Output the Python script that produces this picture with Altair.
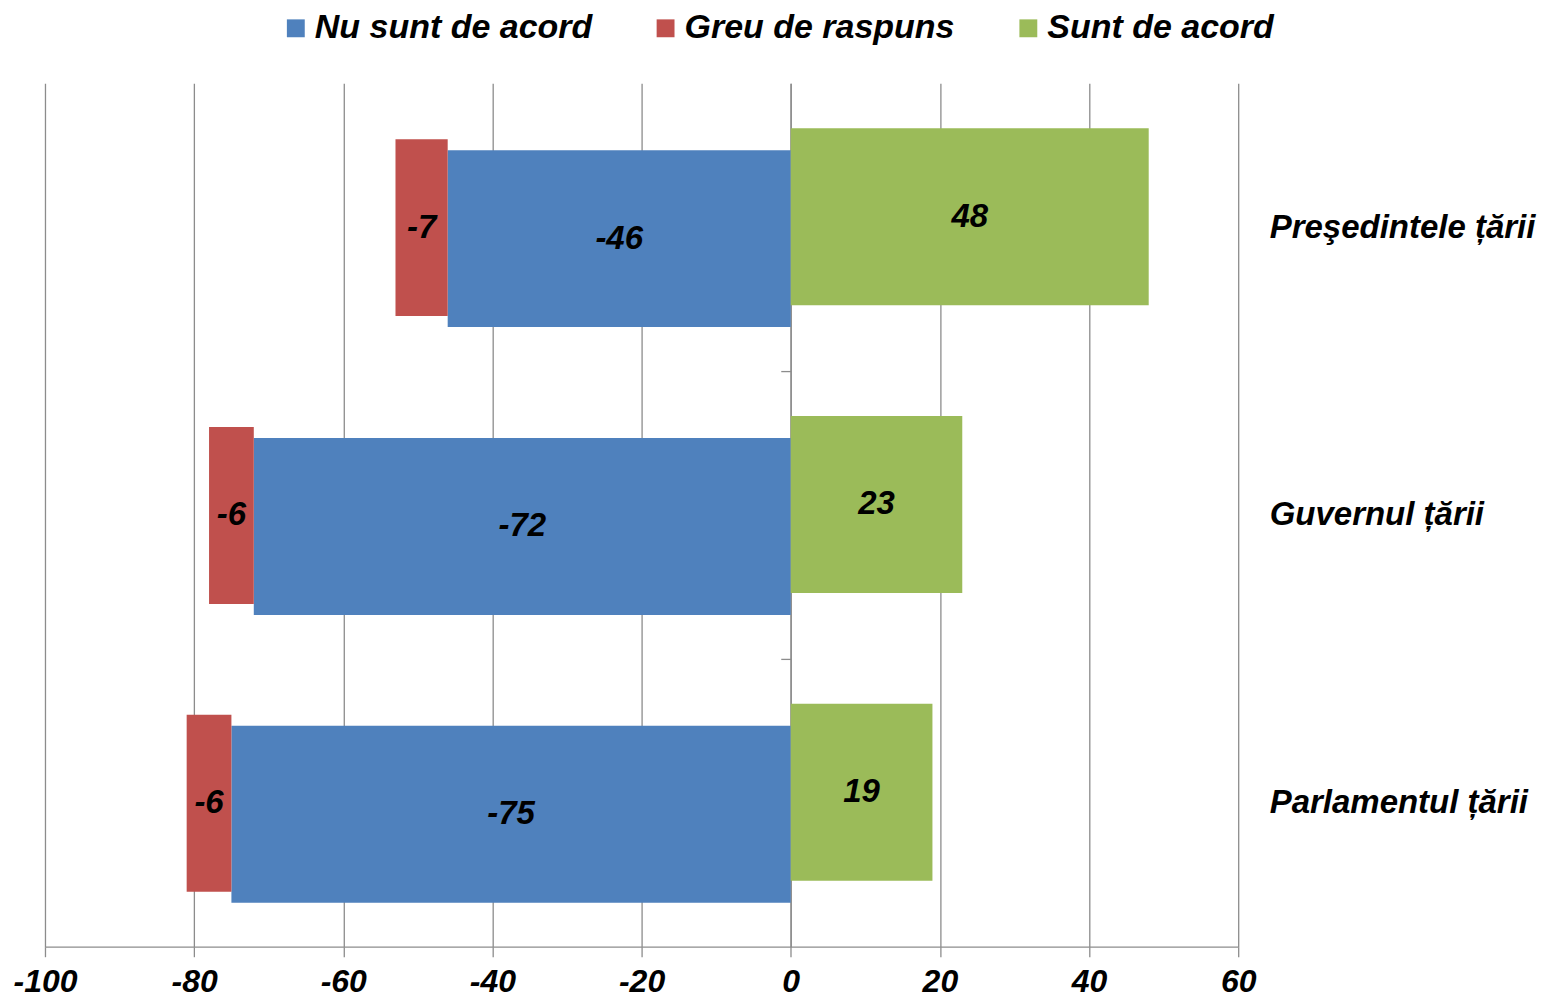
import altair as alt
import pandas as pd

# ---- data ----
categories = ["Preşedintele țării", "Guvernul  țării", "Parlamentul țării"]
series_names = ["Nu sunt de acord", "Greu de raspuns", "Sunt de acord"]
nu_sunt = [-46, -72, -75]
greu = [-7, -6, -6]
sunt = [48, 23, 19]
x_ticks = [-100, -80, -60, -40, -20, 0, 20, 40, 60]
colors = ["#4F81BD", "#C0504D", "#9BBB59"]

# ---- table built from the arrays ----
rows = []
for i, cat in enumerate(categories):
    rows.append({"cat": cat, "idx": i, "series": series_names[0], "slot": 2,
                 "start": 0, "end": nu_sunt[i], "label": str(nu_sunt[i])})
    rows.append({"cat": cat, "idx": i, "series": series_names[1], "slot": 1,
                 "start": nu_sunt[i], "end": nu_sunt[i] + greu[i], "label": str(greu[i])})
    rows.append({"cat": cat, "idx": i, "series": series_names[2], "slot": 0,
                 "start": 0, "end": sunt[i], "label": str(sunt[i])})
df = pd.DataFrame(rows)

# ---- layout / style ----
W, H = 1194, 864
BAND = H / len(categories)
FIRST_OFF, STEP, BAR_H = 45 / BAND, 11 / BAND, 177 / BAND
XDOM = [-100, 60]
ZERO_PX = W * (0 - XDOM[0]) / (XDOM[1] - XDOM[0])
FONT = "Liberation Sans"
GRID = "#8C8C8C"

x_scale = alt.Scale(domain=XDOM, nice=False, zero=False)
y_scale = alt.Scale(domain=[0, len(categories)], reverse=True, nice=False, zero=False)

x_axis = alt.Axis(
    values=x_ticks, grid=True, gridColor=GRID, gridWidth=1.3,
    domainColor=GRID, domainWidth=1.3, tickColor=GRID, tickWidth=1.3, tickSize=10,
    labelFont=FONT, labelFontSize=32, labelFontStyle="italic", labelFontWeight="bold",
    labelColor="black", labelPadding=10, labelFlush=False, title=None,
    labelExpr="datum.value + ''")

base = alt.Chart(df).transform_calculate(
    y0=f"datum.idx + {FIRST_OFF} + datum.slot * {STEP}",
).transform_calculate(
    y1=f"datum.y0 + {BAR_H}",
    ym=f"datum.y0 + {BAR_H / 2}",
    xm="(datum.start + datum.end) / 2",
)

bars = base.mark_rect().encode(
    x=alt.X("start:Q", scale=x_scale, axis=x_axis),
    x2="end:Q",
    y=alt.Y("y0:Q", scale=y_scale, axis=alt.Axis(
        orient="left", offset=-ZERO_PX, values=[1, 2], labels=False, grid=False,
        tickSize=10, tickColor=GRID, tickWidth=1.3, domainColor=GRID, domainWidth=1.3,
        title=None)),
    y2="y1:Q",
    color=alt.Color("series:N", scale=alt.Scale(domain=series_names, range=colors),
                    legend=alt.Legend(
                        orient="none", legendX=234, legendY=-72, direction="horizontal",
                        title=None, symbolType="square", symbolSize=320, symbolStrokeWidth=0,
                        labelFont=FONT, labelFontSize=34, labelFontStyle="italic",
                        labelFontWeight="bold", labelColor="black", labelOffset=2,
                        columnPadding=56, labelLimit=0, padding=0)),
)

label_expr = " : ".join(
    f"datum.value == {i + 0.5} ? '{c}'" for i, c in enumerate(categories)
) + " : ''"

texts = base.mark_text(font=FONT, fontSize=33, fontStyle="italic", fontWeight="bold",
                       color="black", baseline="middle", align="center").encode(
    x=alt.X("xm:Q", scale=x_scale, axis=x_axis),
    y=alt.Y("ym:Q", scale=y_scale, axis=alt.Axis(
        orient="right", values=[i + 0.5 for i in range(len(categories))],
        labelExpr=label_expr, ticks=False, domain=False, grid=False,
        labelPadding=31, labelFont=FONT, labelFontSize=33, labelFontStyle="italic",
        labelFontWeight="bold", labelColor="black", labelAlign="left",
        labelBaseline="middle", labelLimit=0, title=None)),
    text="label:N",
)

chart = alt.layer(bars, texts).resolve_axis(y="independent").properties(
    width=W, height=H,
    autosize=alt.AutoSizeParams(type="none"),
    padding={"left": 37, "top": 75, "right": 310, "bottom": 56},
).configure_view(stroke=None)

chart.save("out.html", embed_options={"renderer": "svg", "actions": False})
